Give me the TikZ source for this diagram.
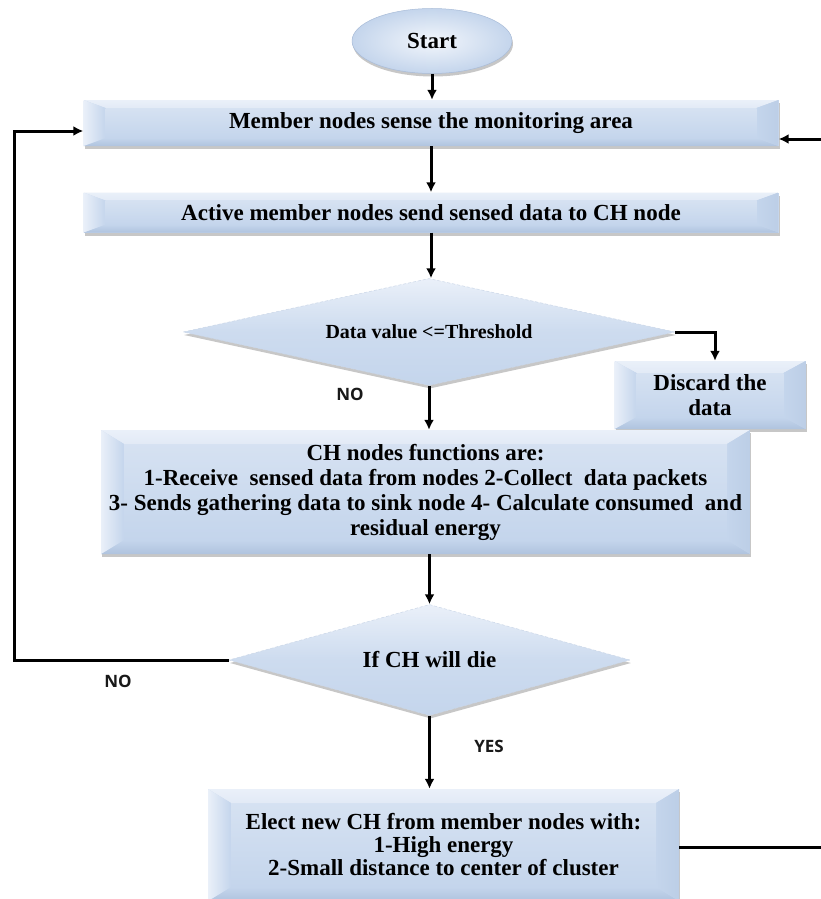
\documentclass[tikz,border=0pt]{standalone}
\usepackage{fontspec}
\setmainfont{Liberation Serif}
\newfontfamily\lblfont{Open Sans}
\usetikzlibrary{shapes.geometric,shadows,arrows.meta}
\definecolor{bxface}{HTML}{C4D5EC}
\definecolor{bxtop}{HTML}{EAF0F9}
\definecolor{bxlight}{HTML}{E2EAF6}
\definecolor{bxbot}{HTML}{AFC3DE}
\definecolor{bxright}{HTML}{BCCEE6}
\definecolor{bxrim}{HTML}{A9BCD8}
\tikzset{
  boxfont/.style={font=\bfseries\fontsize{23}{25}\selectfont, text=black},
  softshadow/.style={drop shadow={shadow xshift=1pt, shadow yshift=-3pt, fill=black, opacity=.22}},
  bevelbox/.style n args={2}{rectangle, inner sep=0pt, fill=bxface, softshadow, boxfont, align=center,
    path picture={
      \path (path picture bounding box.north west) coordinate (bbnw)
            (path picture bounding box.north east) coordinate (bbne)
            (path picture bounding box.south west) coordinate (bbsw)
            (path picture bounding box.south east) coordinate (bbse);
      \shade[top color=bxtop, bottom color=bxlight] (bbnw) -- (bbne) -- ([xshift=-#1pt,yshift=-#2pt]bbne) -- ([xshift=#1pt,yshift=-#2pt]bbnw) -- cycle;
      \shade[top color=bxface, bottom color=bxbot] (bbsw) -- (bbse) -- ([xshift=-#1pt,yshift=#2pt]bbse) -- ([xshift=#1pt,yshift=#2pt]bbsw) -- cycle;
      \shade[left color=bxtop, right color=bxface] (bbnw) -- ([xshift=#1pt,yshift=-#2pt]bbnw) -- ([xshift=#1pt,yshift=#2pt]bbsw) -- (bbsw) -- cycle;
      \shade[left color=bxface, right color=bxright] (bbne) -- ([xshift=-#1pt,yshift=-#2pt]bbne) -- ([xshift=-#1pt,yshift=#2pt]bbse) -- (bbse) -- cycle;
      \shade[top color=bxface!70!white, bottom color=bxface] ([xshift=#1pt,yshift=-#2pt]bbnw) rectangle ([xshift=-#1pt,yshift=#2pt]bbse);
    }},
  decision/.style={diamond, inner sep=0pt, draw=bxrim!60!white, densely dashed, line width=.5pt,
    top color=bxtop, bottom color=bxface, middle color=bxface!85!white, softshadow, boxfont},
  startshape/.style={ellipse, inner sep=0pt, draw=bxrim, line width=.5pt,
    inner color=bxtop!60!white, outer color=bxface, softshadow, boxfont},
  arr/.style={draw=black, line width=3pt, -{Latex[length=10pt,width=10pt]}},
  lbl/.style={font=\lblfont\bfseries\fontsize{17}{20}\selectfont, text=black!90, inner sep=0pt}
}
\begin{document}
\begin{tikzpicture}[x=1pt,y=-1pt]
\useasboundingbox[fill=white] (0,0) rectangle (821,899);
\node[startshape, minimum width=160pt, minimum height=65pt] (start) at (432,41) {Start};
\node[bevelbox={22}{8}, minimum width=695pt, minimum height=46pt] (sense) at (431,123) {Member nodes sense the monitoring area};
\node[bevelbox={22}{8}, minimum width=695pt, minimum height=40pt] (send) at (431,212.5) {Active member nodes send sensed data to CH node};
\node[decision, aspect=4.6, minimum width=492pt, minimum height=107pt, font=\bfseries\fontsize{20}{22}\selectfont] (thr) at (429,332) {Data value <=Threshold};
\node[bevelbox={22}{12}, minimum width=191pt, minimum height=68pt] (discard) at (710,395) {Discard the\\data};
\node[bevelbox={23}{14}, minimum width=649pt, minimum height=124pt] (ch) at (425.5,492) {CH nodes functions are:\\1-Receive\ \ sensed data from nodes 2-Collect\ \ data packets\\3- Sends gathering data to sink node 4- Calculate consumed\ \ and\\residual energy};
\node[decision, aspect=3.6, minimum width=401pt, minimum height=111pt] (die) at (429.5,660) {If CH will die};
\node[bevelbox={23}{14}, minimum width=471pt, minimum height=112pt, font=\bfseries\fontsize{23}{23}\selectfont] (elect) at (443.5,845) {Elect new CH from member nodes with:\\1-High energy\\2-Small distance to center of cluster};
\node[lbl] (no1) at (350,394) {NO};
\node[lbl] (no2) at (118,681) {NO};
\node[lbl] (yes) at (489,746) {YES};
\coordinate (lc) at (14,660);
\coordinate (rc) at (834,847);
\draw[arr] (start.south) -- (start.south |- sense.north);
\draw[arr] (sense.south) -- (send.north);
\draw[arr] (send.south) -- (send.south |- thr.north);
\draw[arr] (thr.east) -| ([xshift=5pt]discard.north);
\draw[arr] (thr.south) -- (thr.south |- ch.north);
\draw[arr] (die.north |- ch.south) -- (die.north);
\draw[arr] (die.west) -- (lc) |- ([yshift=-8pt]sense.west);
\draw[arr] (die.south) -- (die.south |- elect.north);
\draw[arr] ([yshift=-2pt]elect.east) -- (rc) |- ([yshift=-16pt]sense.east);
\end{tikzpicture}
\end{document}
